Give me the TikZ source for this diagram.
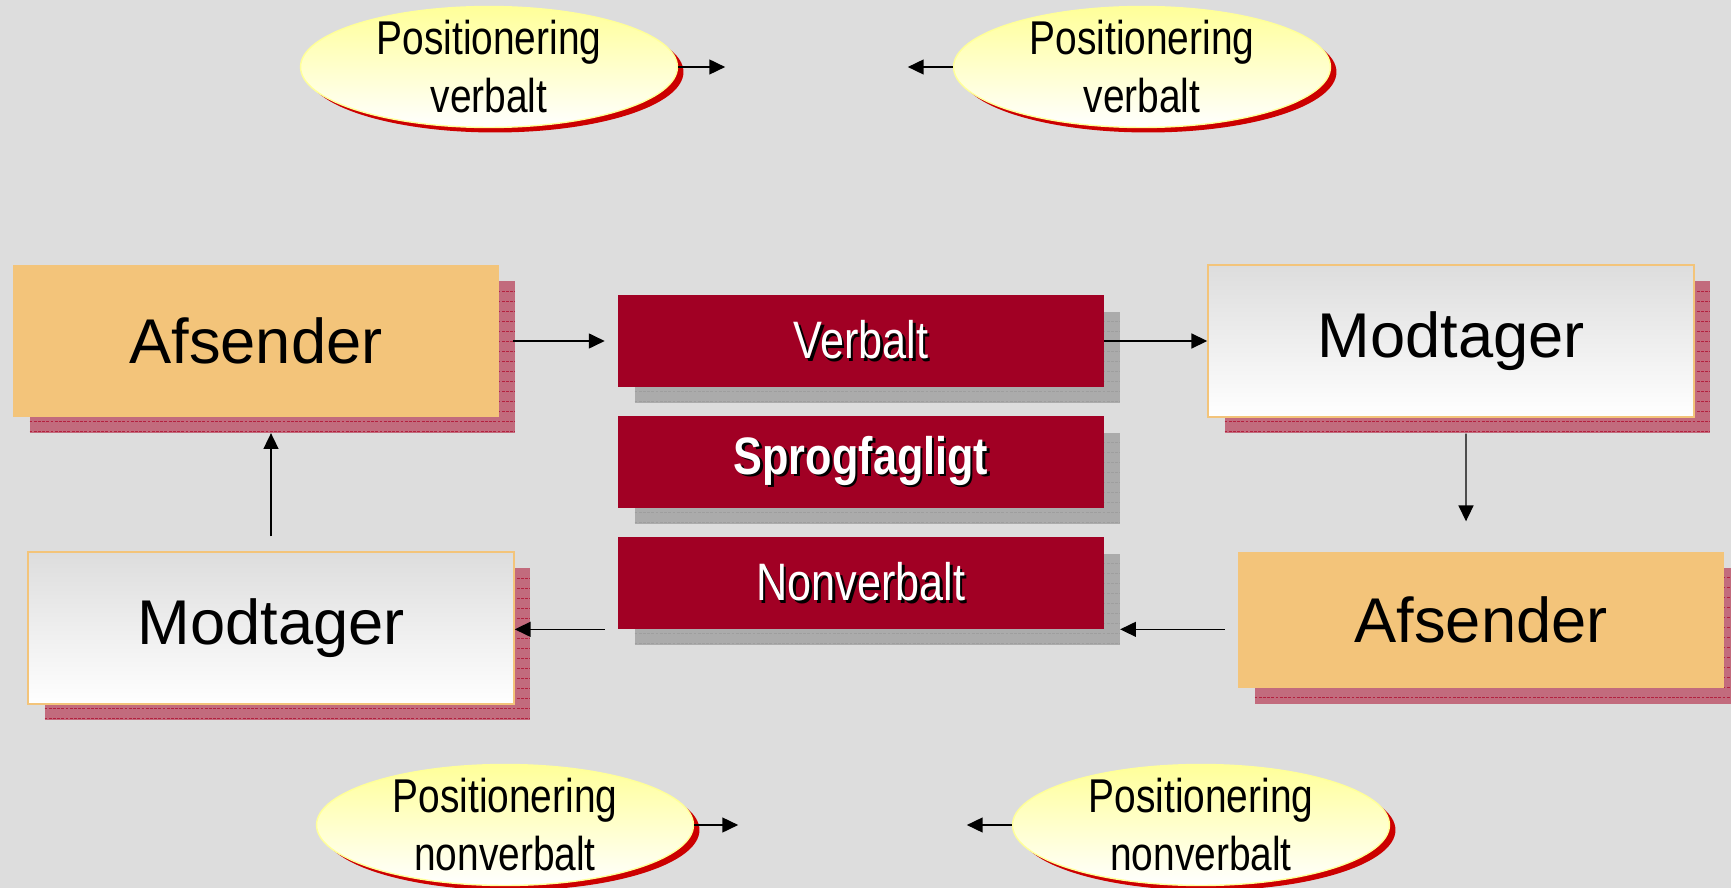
\documentclass[tikz,border=0pt]{standalone}
\usepackage{fontspec}
\setmainfont{Liberation Sans}
\newfontfamily\narrowfont[FakeStretch=0.82]{Liberation Sans}
\usepackage{tikz}
\usetikzlibrary{arrows.meta,positioning,shapes.geometric,shadows}

\definecolor{bggray}{HTML}{DDDDDD}
\definecolor{senderorange}{HTML}{F3C47A}
\definecolor{pinkshadow}{HTML}{C26B7D}
\definecolor{hatchred}{HTML}{B3213F}
\definecolor{channelred}{HTML}{A10024}
\definecolor{channelgray}{HTML}{ABABAB}
\definecolor{bubbleyellow}{HTML}{FFFF99}
\definecolor{bubblered}{HTML}{CC0000}

% white lettering with a small black drop
\newcommand\embossed[1]{\rlap{\hspace{1.4pt}\raisebox{-1.4pt}{\color{black}#1}}{\color{white}#1}}

\begin{document}
\begin{tikzpicture}[
    x=0.02cm, y=-0.02cm,
    flow/.style={-{Triangle[length=9pt,width=8.5pt]}, line width=0.8pt},
    hatched/.style={path picture={
        \foreach \k in {1,...,30}
          \draw[#1, line width=0.4pt, dash pattern=on 1.6pt off 0.8pt]
            ([yshift=-\k*5.7pt]path picture bounding box.north west) --
            ([yshift=-\k*5.7pt]path picture bounding box.north east);}},
    party/.style={rectangle, inner sep=0pt, minimum width=9.72cm,
                  minimum height=3.04cm, font=\fontsize{36}{40}\selectfont,
                  drop shadow={shadow xshift=0.33cm, shadow yshift=-0.32cm,
                               fill=pinkshadow, opacity=1, hatched=hatchred}},
    sender/.style={party, fill=senderorange},
    receiver/.style={party, draw=senderorange, line width=0.9pt,
                     top color=bggray, bottom color=white},
    channel/.style={rectangle, inner sep=0pt, fill=channelred,
                    minimum width=9.72cm, minimum height=1.84cm,
                    font=\narrowfont\fontsize{30}{34}\selectfont,
                    drop shadow={shadow xshift=0.33cm, shadow yshift=-0.33cm,
                                 fill=channelgray, opacity=1, hatched=black!38}},
    bubble/.style={ellipse, inner sep=0pt, minimum width=7.54cm,
                   minimum height=2.42cm, draw=bubbleyellow, line width=0.8pt,
                   top color=bubbleyellow, bottom color=white,
                   drop shadow={shadow xshift=0.12cm, shadow yshift=-0.1cm,
                                fill=bubblered, opacity=1}},
    bubbletext/.style={font=\narrowfont\fontsize{27}{33}\selectfont, align=center},
  ]
    \useasboundingbox (0,0) rectangle (1731,888);
    \fill[bggray] (0,0) rectangle (1731,888);

    % ---- the two sides of the exchange ----
    \node[sender]   (afsL) at (256,341)   {Afsender};
    \node[receiver] (modR) at (1451,341)  {Modtager};
    \node[sender, minimum height=2.74cm] (afsR) at (1481,620) {Afsender};
    \node[receiver] (modL) at (271,628)   {Modtager};

    % ---- channels in the middle ----
    \node[channel] (verb)  at (861,341) {\embossed{Verbalt}};
    \node[channel] (sprog) at (861,462) {\embossed{\bfseries Sprogfagligt}};
    \node[channel] (nonv)  at (861,583) {\embossed{Nonverbalt}};

    \draw[flow, shorten <=8pt, shorten >=7.4pt] (afsL) -- (verb);
    \draw[flow] (verb) -- (modR);
    \draw[flow, shorten <=9pt, shorten >=17pt]
        ([xshift=0.3cm]modR.south) -- ([xshift=-0.3cm]afsR.north);
    \draw[flow, shorten <=7.4pt, shorten >=9pt]
        (afsR.west |- nonv.south east) -- (nonv.south east);
    \draw[flow, shorten <=7.4pt]
        (nonv.south west) -- (nonv.south west -| modL.east);
    \draw[flow, shorten <=8.5pt, shorten >=9pt]
        (modL.north) -- (modL.north |- afsL.south);

    % ---- positioning bubbles ----
    \node[bubble, label={[bubbletext]center:Positionering\\verbalt}]
        (posTL) at (489,67) {};
    \node[bubble, label={[bubbletext]center:Positionering\\verbalt}]
        (posTR) at (1142,67) {};
    \node[bubble, label={[bubbletext]center:Positionering\\nonverbalt}]
        (posBL) at (505,825) {};
    \node[bubble, label={[bubbletext]center:Positionering\\nonverbalt}]
        (posBR) at (1201,825) {};

    \coordinate[right=0.94cm of posTL] (tlTip);
    \coordinate[left=0.9cm of posTR]   (trTip);
    \coordinate[right=0.88cm of posBL] (blTip);
    \coordinate[left=0.9cm of posBR]   (brTip);

    \draw[flow] (posTL) -- (tlTip);
    \draw[flow] (posTR) -- (trTip);
    \draw[flow] (posBL) -- (blTip);
    \draw[flow] (posBR) -- (brTip);
  \end{tikzpicture}
\end{document}
